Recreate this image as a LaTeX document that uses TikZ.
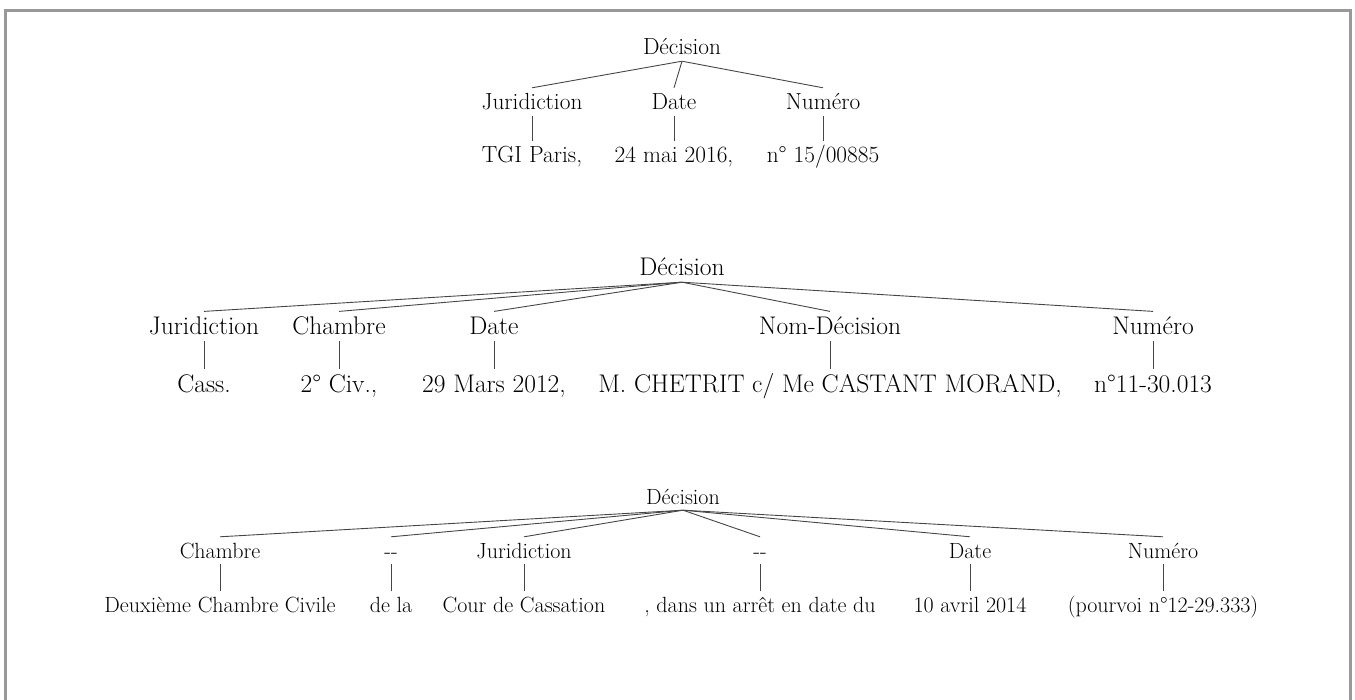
\documentclass[tikz,border=0pt]{standalone}
\usepackage{fontspec}
\definecolor{framegray}{RGB}{153,153,153}
\definecolor{edgegray}{RGB}{70,70,70}
\begin{document}
\begin{tikzpicture}[x=1pt,y=-1pt,
  lbl/.style={anchor=base, inner xsep=2pt, inner ysep=6pt, text depth=0pt},
  ta/.style={lbl, text height=16pt, font=\fontsize{23.3}{28}\selectfont},
  tb/.style={lbl, text height=17.4pt, font=\fontsize{25.5}{30}\selectfont},
  tc/.style={lbl, text height=15pt, font=\fontsize{22}{26}\selectfont},
  edge/.style={draw=edgegray, line width=0.9pt}]
\useasboundingbox (0,0) rectangle (1355,700);
\clip (0,0) rectangle (1355,700);
\draw[framegray, line width=3pt] (5.5,10.5) rectangle (1350.5,720);

% ---------- Tree 1 ----------
\node[ta] (a0) at (682,55) {Décision};
\node[ta] (a1) at (532,110) {Juridiction};
\node[ta] (a2) at (674,110) {Date};
\node[ta] (a3) at (823,110) {Numéro};
\node[ta] (a1l) at (532,163) {TGI Paris,};
\node[ta] (a2l) at (674,163) {24 mai 2016,};
\node[ta] (a3l) at (823,163) {n° 15/00885};
\foreach \c in {a1,a2,a3} \draw[edge] (a0.south) -- (\c.north);
\foreach \c in {a1,a2,a3} \draw[edge] (\c.south) -- (\c l.north);

% ---------- Tree 2 ----------
\node[tb] (b0) at (682,276) {Décision};
\node[tb] (b1) at (204,335) {Juridiction};
\node[tb] (b2) at (339,335) {Chambre};
\node[tb] (b3) at (494,335) {Date};
\node[tb] (b4) at (830,335) {Nom-Décision};
\node[tb] (b5) at (1153,335) {Numéro};
\node[tb] (b1l) at (204,393) {Cass.};
\node[tb] (b2l) at (339,393) {2° Civ.,};
\node[tb] (b3l) at (494,393) {29 Mars 2012,};
\node[tb] (b4l) at (830,393) {M. CHETRIT c/ Me CASTANT MORAND,};
\node[tb] (b5l) at (1153,393) {n°11-30.013};
\foreach \c in {b1,b2,b3,b4,b5} \draw[edge] (b0.south) -- (\c.north);
\foreach \c in {b1,b2,b3,b4,b5} \draw[edge] (\c.south) -- (\c l.north);

% ---------- Tree 3 ----------
\node[tc] (c0) at (683,504) {Décision};
\node[tc] (c1) at (220,558) {Chambre};
\node[tc] (c2) at (391,558) {-{}-};
\node[tc] (c3) at (524,558) {Juridiction};
\node[tc] (c4) at (760,558) {-{}-};
\node[tc] (c5) at (970,558) {Date};
\node[tc] (c6) at (1163,558) {Numéro};
\node[tc] (c1l) at (220,612) {Deuxième Chambre Civile};
\node[tc] (c2l) at (391,612) {de la};
\node[tc] (c3l) at (524,612) {Cour de Cassation};
\node[tc] (c4l) at (760,612) {, dans un arrêt en date du};
\node[tc] (c5l) at (970,612) {10 avril 2014};
\node[tc] (c6l) at (1163,612) {(pourvoi n°12-29.333)};
\foreach \c in {c1,c2,c3,c4,c5,c6} \draw[edge] (c0.south) -- (\c.north);
\foreach \c in {c1,c2,c3,c4,c5,c6} \draw[edge] (\c.south) -- (\c l.north);
\end{tikzpicture}
\end{document}
